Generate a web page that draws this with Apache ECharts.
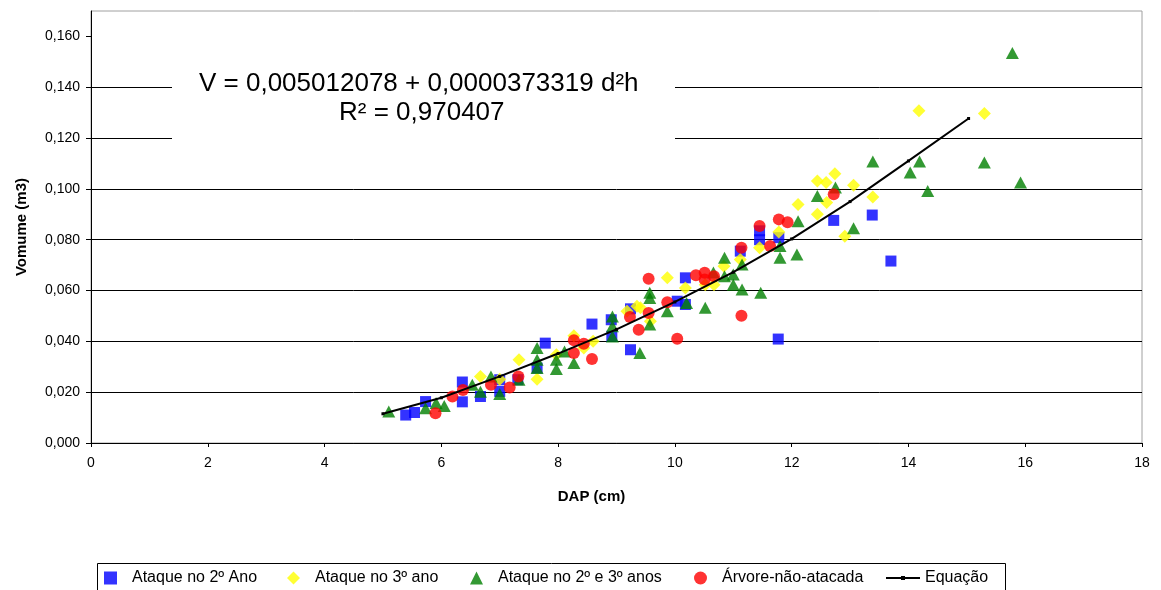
<!DOCTYPE html>
<html><head><meta charset="utf-8">
<script src="https://cdn.jsdelivr.net/npm/echarts@6/dist/echarts.min.js"></script>
<style>html,body{margin:0;padding:0;background:#fff}#c{width:1161px;height:590px}</style>
</head><body><div id="c"></div>
<script>
// Data: [DAP (cm), Volume (m3)]
const serieNames = ['Ataque no 2º Ano', 'Ataque no 3º ano', 'Ataque no 2º e 3º anos', 'Árvore-não-atacada', 'Equação'];
const ataque2 = [[5.39,0.0110],[5.54,0.0120],[5.73,0.0163],[6.36,0.0240],[6.36,0.0162],[6.67,0.0183],[7.00,0.0249],[7.00,0.0203],[7.31,0.0249],[7.64,0.0295],[7.78,0.0393],[8.58,0.0468],[8.91,0.0485],[8.92,0.0420],[9.24,0.0528],[9.24,0.0367],[10.04,0.0558],[10.18,0.0650],[10.18,0.0545],[11.12,0.0755],[11.45,0.0835],[11.45,0.0800],[11.78,0.0808],[11.77,0.0409],[12.72,0.0876],[13.38,0.0897],[13.70,0.0716]];
const ataque3 = [[6.67,0.0262],[7.00,0.0251],[7.33,0.0328],[7.64,0.0251],[7.97,0.0347],[8.27,0.0422],[8.44,0.0374],[8.60,0.0400],[9.18,0.0518],[9.35,0.0538],[9.41,0.0532],[9.58,0.0479],[9.87,0.0650],[10.18,0.0610],[10.52,0.0623],[10.67,0.0623],[10.84,0.0696],[11.12,0.0722],[11.45,0.0768],[11.78,0.0830],[12.11,0.0939],[12.44,0.1031],[12.59,0.1025],[12.74,0.1060],[12.60,0.0946],[12.44,0.0900],[13.06,0.1014],[13.39,0.0968],[12.91,0.0814],[14.18,0.1307],[15.30,0.1297]];
const ataque23 = [[5.10,0.0124],[5.73,0.0137],[5.91,0.0157],[6.05,0.0146],[6.53,0.0229],[6.67,0.0202],[6.85,0.0262],[7.00,0.0193],[7.33,0.0249],[7.64,0.0374],[7.64,0.0328],[7.64,0.0295],[7.97,0.0328],[7.97,0.0291],[8.11,0.0360],[8.27,0.0315],[8.93,0.0498],[8.93,0.0459],[8.93,0.0419],[9.40,0.0354],[9.57,0.0591],[9.57,0.0571],[9.57,0.0466],[9.87,0.0518],[10.20,0.0551],[10.52,0.0532],[10.66,0.0671],[10.85,0.0729],[10.85,0.0656],[11.00,0.0663],[11.00,0.0623],[11.15,0.0702],[11.15,0.0604],[11.47,0.0591],[11.80,0.0775],[11.80,0.0729],[12.09,0.0742],[12.11,0.0873],[12.44,0.0972],[12.75,0.1005],[13.06,0.0845],[13.39,0.1108],[14.03,0.1064],[14.19,0.1108],[14.33,0.0992],[15.30,0.1104],[15.78,0.1535],[15.92,0.1025]];
const naoAtacada = [[5.90,0.0117],[6.19,0.0183],[6.37,0.0209],[6.85,0.0229],[7.17,0.0218],[7.32,0.0262],[8.27,0.0404],[8.27,0.0354],[8.44,0.0391],[8.58,0.0331],[9.23,0.0496],[9.38,0.0446],[9.55,0.0646],[9.55,0.0512],[9.87,0.0554],[10.04,0.0410],[10.36,0.0660],[10.51,0.0670],[10.51,0.0643],[10.67,0.0656],[11.14,0.0768],[11.14,0.0501],[11.45,0.0854],[11.63,0.0775],[11.78,0.0880],[11.93,0.0869],[12.72,0.0979]];
const equacao = [[5.0,0.0115],[6.0,0.0178],[7.0,0.0262],[8.0,0.0352],[9.0,0.0447],[10.0,0.0555],[11.0,0.0672],[12.0,0.0803],[13.0,0.0950],[14.0,0.1110],[15.03,0.1277]];
const yTicks = [0, 0.02, 0.04, 0.06, 0.08, 0.10, 0.12, 0.14, 0.16];
const xTicks = [0, 2, 4, 6, 8, 10, 12, 14, 16, 18];
const eqLine1 = 'V = 0,005012078 + 0,0000373319 d²h';
const eqLine2 = 'R² = 0,970407';

const FONT = 'Liberation Sans, Arial, sans-serif';
const chart = echarts.init(document.getElementById('c'), null, {renderer: 'canvas'});
const legendText = {fontFamily: FONT, fontSize: 16, color: '#000', padding: [0, 0, 0, 10]};
function symLegend(name, left) {
  return {data: [name], left: left, top: 565, itemWidth: 13, itemHeight: 13, itemGap: 0,
    textStyle: legendText, selectedMode: false};
}
chart.setOption({
  animation: false,
  backgroundColor: '#fff',
  textStyle: {fontFamily: FONT},
  grid: {left: 91, right: 19, top: 11, bottom: 147, show: true, borderColor: '#a0a0a0', borderWidth: 1, backgroundColor: '#fff'},
  xAxis: {
    type: 'value', min: 0, max: 18, interval: 2,
    name: 'DAP (cm)', nameLocation: 'middle', nameGap: 46,
    nameTextStyle: {fontFamily: FONT, fontSize: 15, fontWeight: 'bold', color: '#000', padding: [0, 50, 0, 0]},
    axisLine: {lineStyle: {color: '#000', width: 1}},
    axisTick: {show: true, inside: false, length: 4, lineStyle: {color: '#000'}},
    axisLabel: {fontFamily: FONT, fontSize: 14, color: '#000', margin: 13, customValues: xTicks},
    splitLine: {show: false}
  },
  yAxis: {
    type: 'value', min: 0, max: 0.17,
    name: 'Vomume (m3)', nameLocation: 'middle', nameGap: 62,
    nameTextStyle: {fontFamily: FONT, fontSize: 15, fontWeight: 'bold', color: '#000'},
    axisLine: {show: true, lineStyle: {color: '#000', width: 1}},
    axisTick: {show: true, inside: false, length: 5, lineStyle: {color: '#000'}, customValues: yTicks},
    axisLabel: {fontFamily: FONT, fontSize: 14, color: '#000', margin: 11, customValues: yTicks,
      formatter: v => v.toFixed(3).replace('.', ',')},
    splitLine: {show: true, showMaxLine: false, lineStyle: {color: '#000', width: 1}}
  },
  legend: [
    symLegend(serieNames[0], 99),
    symLegend(serieNames[1], 282),
    symLegend(serieNames[2], 465),
    symLegend(serieNames[3], 689),
    {data: [serieNames[4]], left: 880, top: 565, itemWidth: 34, itemHeight: 5, itemGap: 0,
     textStyle: {fontFamily: FONT, fontSize: 16, color: '#000', padding: [0, 0, 0, 0], lineHeight: 12}, selectedMode: false}
  ],
  graphic: [
    {type: 'rect', shape: {x: 97.5, y: 563.5, width: 908, height: 40},
     style: {fill: 'none', stroke: '#000', lineWidth: 1}, silent: true, z: 0},
    {type: 'rect', shape: {x: 172, y: 58, width: 503, height: 88},
     style: {fill: '#fff', stroke: 'none'}, silent: true, z: 10},
    {type: 'text', silent: true, z: 11, left: 199, top: 71,
     style: {text: eqLine1, fontFamily: FONT, fontSize: 26, fill: '#000'}},
    {type: 'text', silent: true, z: 11, left: 339, top: 100,
     style: {text: eqLine2, fontFamily: FONT, fontSize: 26, fill: '#000'}}
  ],
  series: [
    {name: serieNames[0], type: 'scatter', data: ataque2, symbol: 'rect', symbolSize: 11,
     itemStyle: {color: '#0000ff'}, z: 2},
    {name: serieNames[1], type: 'scatter', data: ataque3, symbol: 'diamond', symbolSize: 13,
     itemStyle: {color: '#ffff00'}, z: 3},
    {name: serieNames[2], type: 'scatter', data: ataque23, symbol: 'triangle', symbolSize: [13, 12],
     itemStyle: {color: '#008000'}, z: 4},
    {name: serieNames[3], type: 'scatter', data: naoAtacada, symbol: 'circle', symbolSize: 12,
     itemStyle: {color: '#ff0000'}, z: 5},
    {name: serieNames[4], type: 'line', data: equacao, symbol: 'rect', symbolSize: 3, showSymbol: true,
     lineStyle: {color: '#000', width: 2}, itemStyle: {color: '#000'}, z: 6}
  ]
});
</script></body></html>
